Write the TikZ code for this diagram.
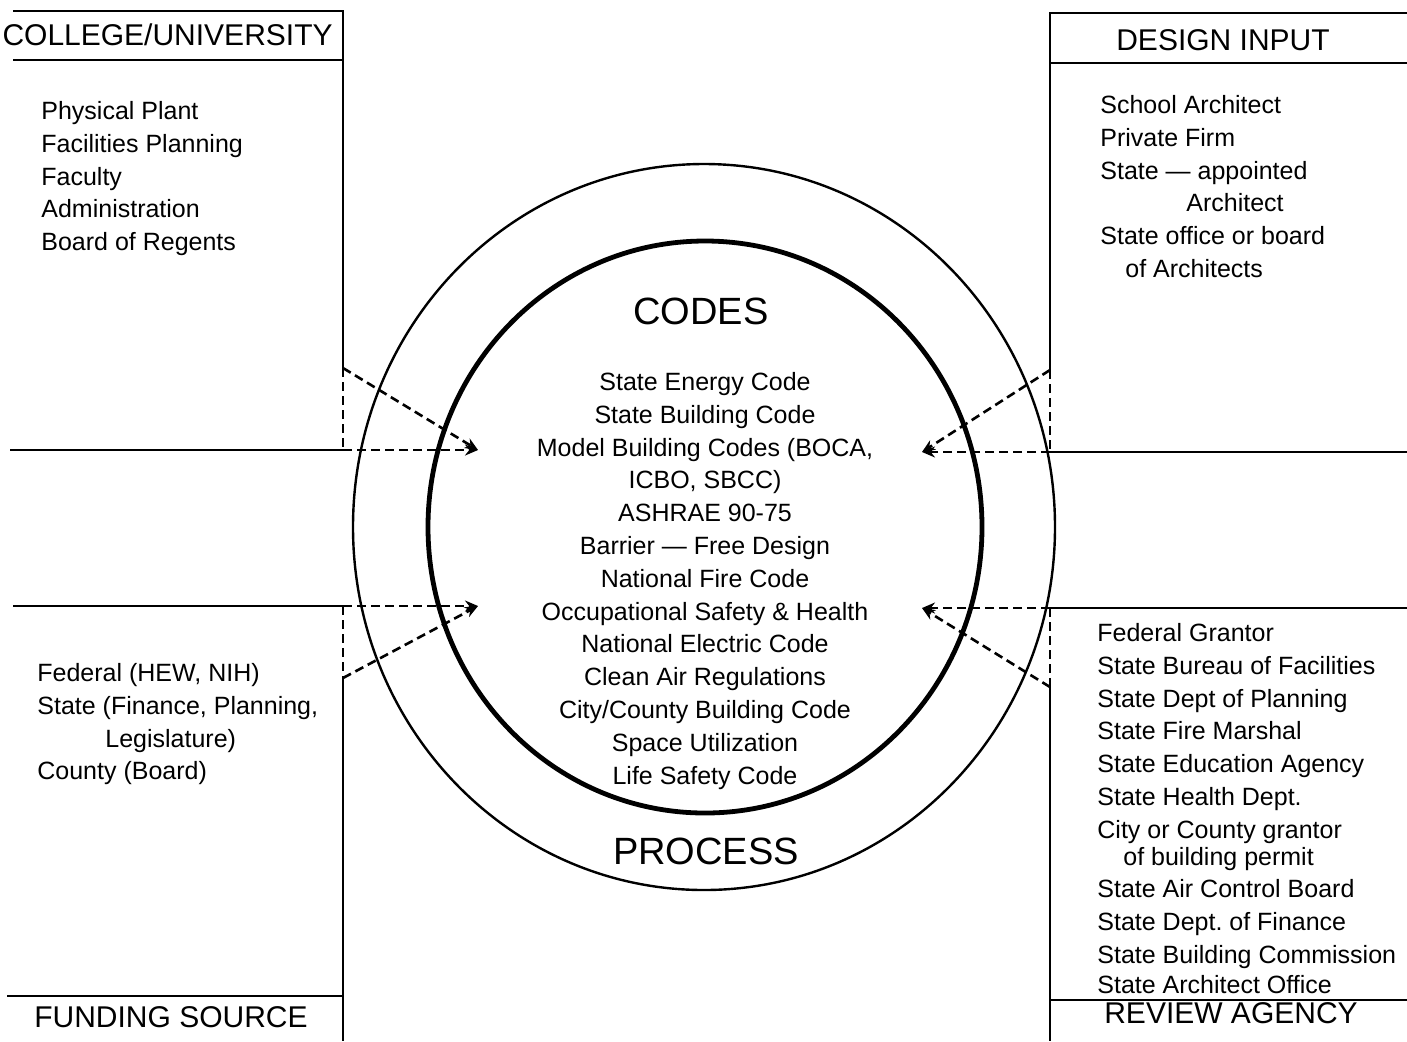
\documentclass[tikz,border=0pt]{standalone}
\usepackage{fontspec}
\setmainfont{Liberation Sans}
\usetikzlibrary{arrows.meta}

\begin{document}
\begin{tikzpicture}[x=0.5pt, y=-0.5pt,
		box/.style={line width=1.3pt},
		link/.style={line width=1.3pt, dash pattern=on 4.5pt off 2.5pt},
		flow/.style={link, -{Stealth[length=6.5pt, width=5.5pt]}},
		list/.style={anchor=north west, inner sep=0pt, align=left, font=\fontsize{12.5}{16.4}\selectfont},
		head/.style={anchor=base, inner sep=0pt, font=\fontsize{15}{18}\selectfont},
		title/.style={inner sep=0pt, font=\fontsize{19}{22}\selectfont}]
	\useasboundingbox (0, 0) rectangle (1407, 1041);

	\coordinate (cu)  at (343, 368);
	\coordinate (cu2) at (343, 450);
	\coordinate (fs)  at (343, 678);
	\coordinate (fs2) at (343, 606);
	\coordinate (di)  at (1050, 370);
	\coordinate (di2) at (1050, 452);
	\coordinate (ra)  at (1050, 687);
	\coordinate (ra2) at (1050, 608);
	\coordinate (tipNW) at (478, 450);
	\coordinate (tipSW) at (478, 606);
	\coordinate (tipNE) at (922, 452);
	\coordinate (tipSE) at (922, 608);

	\draw[box]	(13, 11) -- (343, 11) -- (cu);
	\draw[box]	(13, 60) -- (343, 60);
	\draw[box]	(10, 450) -- (cu2);
	\draw[box]	(13, 606) -- (fs2);
	\draw[box]	(fs) -- (343, 1041);
	\draw[box]	(7, 996) -- (343, 996);

	\draw[box]	(1407, 13) -- (1050, 13) -- (di);
	\draw[box]	(1050, 63) -- (1407, 63);
	\draw[box]	(di2) -- (1407, 452);
	\draw[box]	(ra2) -- (1407, 608);
	\draw[box]	(ra) -- (1050, 1041);
	\draw[box]	(1050, 1000) -- (1407, 1000);

	\draw[link]	(cu) -- (cu2);
	\draw[link]	(fs2) -- (fs);
	\draw[link]	(di) -- (di2);
	\draw[link]	(ra2) -- (ra);

	\draw[flow]	(cu) -- (tipNW);
	\draw[flow]	(cu2) -- (tipNW);
	\draw[flow]	(fs2) -- (tipSW);
	\draw[flow]	(fs) -- (tipSW);
	\draw[flow]	(di) -- (tipNE);
	\draw[flow]	(di2) -- (tipNE);
	\draw[flow]	(ra2) -- (tipSE);
	\draw[flow]	(ra) -- (tipSE);

	\draw[line width=1.2pt]	(704, 527) ellipse [x radius=351, y radius=363];
	\draw[line width=2.4pt]	(705, 527) ellipse [x radius=277, y radius=286];

	\node[head, anchor=base east] (cuHead) at (333, 45) {COLLEGE/UNIVERSITY};
	\node[head] (diHead) at (1223, 50) {DESIGN INPUT};
	\node[head] (fsHead) at (171, 1027) {FUNDING SOURCE};
	\node[head] (raHead) at (1231, 1023) {REVIEW AGENCY};

	\node[list] (cuList) at (41, 101) {Physical Plant\\ Facilities Planning\\ Faculty\\ Administration\\ Board of Regents};
	\node[list] (diList) at (1100, 95) {School Architect\\ Private Firm\\ State --- appointed\\ \hspace*{43pt}Architect\\ State office or board\\ \hspace*{12.5pt}of Architects};
	\node[list] (fsList) at (37, 663) {Federal (HEW, NIH)\\ State (Finance, Planning,\\ \hspace*{34pt}Legislature)\\ County (Board)};
	\node[list] (raList) at (1097, 623) {Federal Grantor\\ State Bureau of Facilities\\ State Dept of Planning\\ State Fire Marshal\\ State Education Agency\\ State Health Dept.\\ City or County grantor\\[-3pt] \hspace*{13pt}of building permit\\ State Air Control Board\\ State Dept.\ of Finance\\ State Building Commission\\[-1.5pt] State Architect Office};

	\node[title] (codes) at (701, 311) {CODES};
	\node[list, anchor=north, align=center] (codeList) at (705, 372) {State Energy Code\\ State Building Code\\ Model Building Codes (BOCA,\\ ICBO, SBCC)\\ ASHRAE 90-75\\ Barrier --- Free Design\\ National Fire Code\\ Occupational Safety \& Health\\ National Electric Code\\ Clean Air Regulations\\ City/County Building Code\\ Space Utilization\\ Life Safety Code};
	\node[title] (process) at (706, 851) {PROCESS};
\end{tikzpicture}
\end{document}
